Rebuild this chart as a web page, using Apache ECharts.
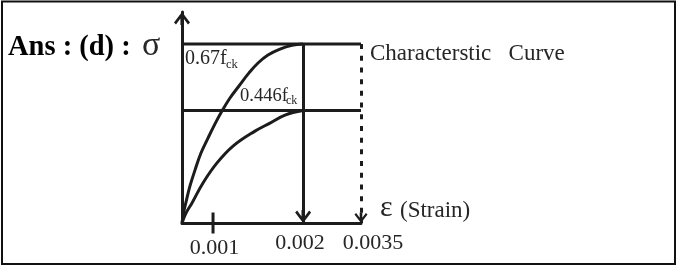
<!DOCTYPE html>
<html>
<head>
<meta charset="utf-8">
<script src="https://cdn.jsdelivr.net/npm/echarts@6/dist/echarts.min.js"></script>
<style>
  html, body { margin: 0; padding: 0; background: #fff; }
  #chart { width: 677px; height: 266px; }
</style>
</head>
<body>
<div id="chart"></div>
<script>
// ---- data (schematic drawing, not to scale) ----
const strainLabels = ['0.001', '0.002', '0.0035'];
const strainPos = [0.52, 2.03, 3];            // positions of the strain marks on the sketch
const stressLabels = ['0.67f', '0.446f'];
const stressPos = [0.67, 0.421];              // heights of the two stress levels on the sketch
const upperCurveX = [0, 0.025, 0.075, 0.134, 0.218, 0.318, 0.436, 0.553, 0.670, 0.804, 0.955, 1.123, 1.274, 1.441, 1.642, 1.843, 2.03];
const upperCurveY = [0, 0.037, 0.086, 0.139, 0.198, 0.262, 0.318, 0.371, 0.419, 0.468, 0.513, 0.562, 0.599, 0.629, 0.651, 0.665, 0.67];
const lowerCurveX = [0, 0.067, 0.168, 0.352, 0.587, 0.855, 1.223, 1.475, 1.726, 2.03];
const lowerCurveY = [0, 0.037, 0.075, 0.150, 0.225, 0.288, 0.344, 0.374, 0.404, 0.421];
const titleText = 'Ans : (d) :';
const stressSymbol = 'σ';
const curveName = 'Characterstic   Curve';
const strainSymbol = 'ε';
const strainName = '(Strain)';
const subscript = 'ck';

const INK = '#1c1c1c';
const TXT = '#262626';
const SERIF = '"Liberation Serif", "DejaVu Serif", serif';
const chevron = 'path://M8,0 L16,10.5 L14,12.5 L9.6,6.6 L9.6,13 L6.4,13 L6.4,6.6 L2,12.5 L0,10.5 Z';

const zip = (xs, ys) => xs.map((x, i) => [x, ys[i]]);

const chart = echarts.init(document.getElementById('chart'), null, { renderer: 'canvas' });

chart.setOption({
  animation: false,
  backgroundColor: '#fff',
  grid: { left: 182, right: 316, top: 12, bottom: 43, outerBoundsMode: 'none', containLabel: false },
  xAxis: {
    type: 'value', min: 0, max: 3, position: 'bottom',
    axisLine: { show: true, lineStyle: { color: INK, width: 3 } },
    splitLine: { show: false },
    axisTick: { show: false },
    axisLabel: {
      show: true, customValues: strainPos, showMaxLabel: true, showMinLabel: true,
      margin: 9, color: TXT, fontFamily: SERIF, fontSize: 22,
      formatter: function (v) {
        const i = strainPos.indexOf(v);
        return '{s' + i + '|' + strainLabels[i] + '}';
      },
      rich: {
        s0: { fontFamily: SERIF, fontSize: 22, color: TXT, padding: [5, 0, 0, 3] },
        s1: { fontFamily: SERIF, fontSize: 22, color: TXT, padding: [0, 6, 0, 0] },
        s2: { fontFamily: SERIF, fontSize: 22, color: TXT, padding: [0, 0, 0, 24] }
      }
    }
  },
  yAxis: {
    type: 'value', min: 0, max: 0.79,
    axisLine: { show: true, lineStyle: { color: INK, width: 3 }, symbol: ['none', chevron], symbolSize: [16, 13], symbolOffset: [0, -6.5] },
    axisTick: { show: false },
    axisLabel: { show: false },
    splitLine: { show: false }
  },
  graphic: [
    { type: 'rect', shape: { x: 2, y: 1.5, width: 673, height: 262.5 }, style: { fill: 'none', stroke: '#111', lineWidth: 2 }, silent: true },
    { type: 'text', x: 8, y: 47.5, style: { text: titleText, font: 'bold 28.5px ' + SERIF, fill: '#000', verticalAlign: 'middle' } },
    { type: 'text', x: 142, y: 46.5, style: { text: stressSymbol, font: '34px ' + SERIF, fill: TXT, verticalAlign: 'middle' } },
    { type: 'text', x: 185, y: 59, style: { text: stressLabels[0], font: '20px ' + SERIF, fill: TXT, verticalAlign: 'middle' } },
    { type: 'text', x: 226, y: 65, style: { text: subscript, font: '12.5px ' + SERIF, fill: TXT, verticalAlign: 'middle' } },
    { type: 'text', x: 240, y: 96, style: { text: stressLabels[1], font: '18.5px ' + SERIF, fill: TXT, verticalAlign: 'middle' } },
    { type: 'text', x: 286, y: 101, style: { text: subscript, font: '12px ' + SERIF, fill: TXT, verticalAlign: 'middle' } },
    { type: 'text', x: 370, y: 54, style: { text: curveName, font: '23px ' + SERIF, fill: TXT, verticalAlign: 'middle' } },
    { type: 'text', x: 380, y: 208, style: { text: strainSymbol, font: '30px ' + SERIF, fill: TXT, verticalAlign: 'middle' } },
    { type: 'text', x: 400, y: 211, style: { text: strainName, font: '23px ' + SERIF, fill: TXT, verticalAlign: 'middle' } }
  ],
  series: [
    {
      type: 'line', name: 'level1', silent: true, symbol: 'none',
      data: [[0, stressPos[0]], [strainPos[2], stressPos[0]]],
      lineStyle: { color: INK, width: 3 },
      markLine: {
        silent: true, animation: false,
        symbol: ['none', chevron], symbolSize: [16, 13], symbolOffset: [0, [0, 6.5]],
        label: { show: false },
        lineStyle: { color: INK, width: 3, type: 'solid' },
        emphasis: { disabled: true },
        data: [[{ coord: [strainPos[1], stressPos[0]] }, { coord: [strainPos[1], 0] }]]
      }
    },
    {
      type: 'line', name: 'level2', silent: true, symbol: 'none',
      data: [[0, stressPos[1]], [strainPos[2], stressPos[1]]],
      lineStyle: { color: INK, width: 3 },
      markLine: {
        silent: true, animation: false,
        symbol: ['none', chevron], symbolSize: [13, 10.5], symbolOffset: [0, [0, 5.2]],
        label: { show: false },
        lineStyle: { color: INK, width: 3, type: [5, 6.7] },
        emphasis: { disabled: true },
        data: [[{ coord: [strainPos[2], stressPos[0]] }, { coord: [strainPos[2], 0] }]]
      }
    },
    {
      type: 'line', name: 'upper', silent: true, symbol: 'none', smooth: 0.4,
      data: zip(upperCurveX, upperCurveY),
      lineStyle: { color: INK, width: 3 }
    },
    {
      type: 'line', name: 'lower', silent: true, symbol: 'none', smooth: 0.4,
      data: zip(lowerCurveX, lowerCurveY),
      lineStyle: { color: INK, width: 3 }
    },
    {
      // the single tick mark at 0.001, crossing the strain axis
      type: 'scatter', name: 'tick', silent: true, clip: false, z: 5,
      symbol: 'rect', symbolSize: [3, 21],
      itemStyle: { color: INK, opacity: 1 },
      data: [[strainPos[0], 0]]
    }
  ]
});
</script>
</body>
</html>
